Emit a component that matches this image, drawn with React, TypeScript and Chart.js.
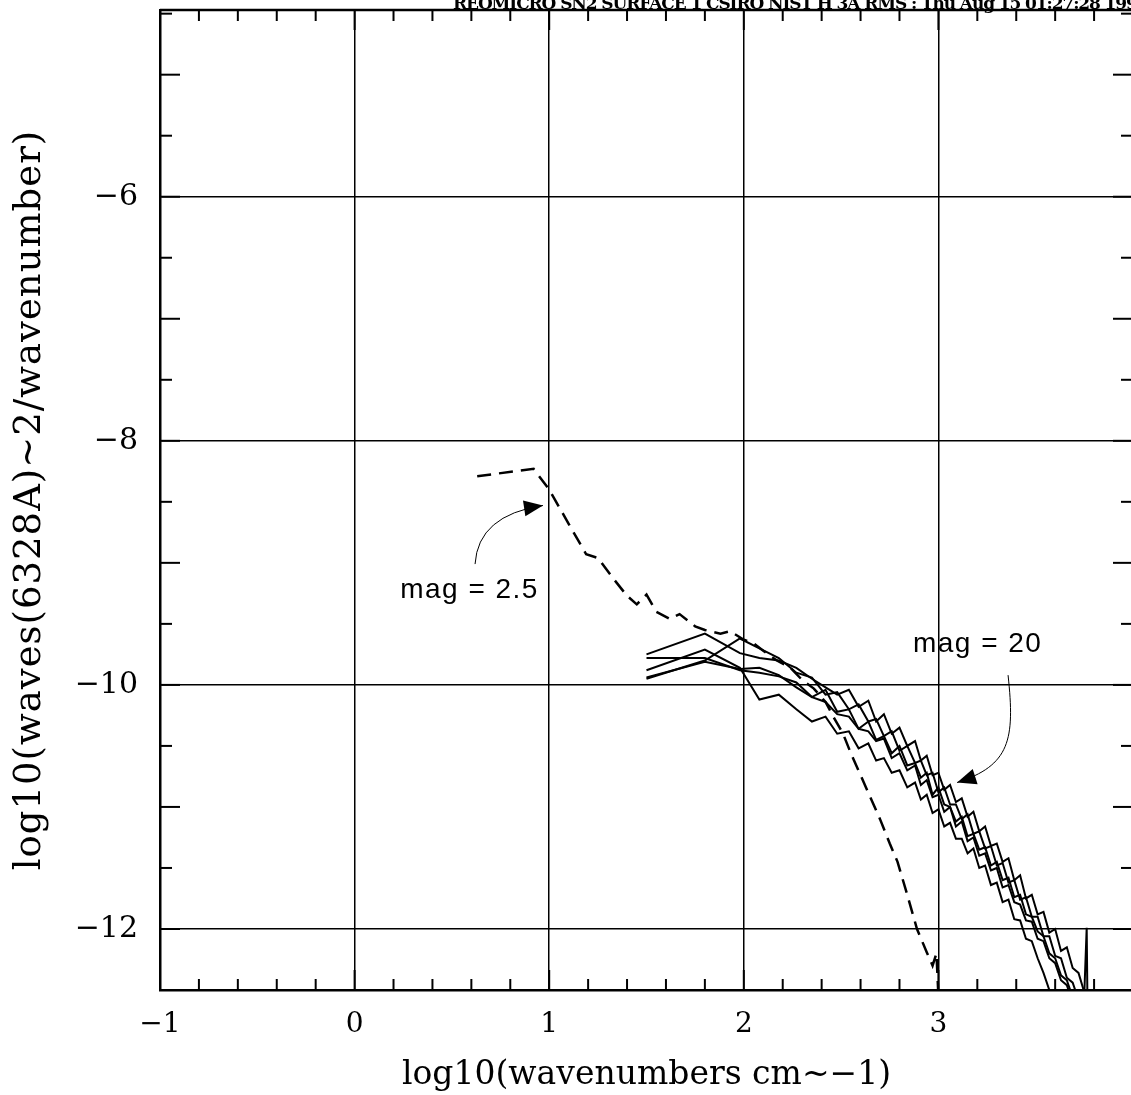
import React, { useEffect, useRef } from "react";
import { Chart, registerables } from "chart.js";

Chart.register(...registerables);

// ---- axes ----
const X_MIN = -1;
const X_MAX = 4;
const Y_MIN = -12.5;
const Y_MAX = -4.47;
const X_MINOR_STEP = 0.2;
const Y_MINOR_STEP = 0.5;
const X_LABELED = [-1, 0, 1, 2, 3];
const X_GRID = [0, 1, 2, 3];
const Y_LABELED = [-6, -8, -10, -12];
const Y_GRID = [-6, -8, -10, -12];

const X_TITLE = "log10(wavenumbers cm~\u22121)";
const Y_TITLE = "log10(waves(6328A)~2/wavenumber)";
const HEADER = "REOMICRO SN2 SURFACE 1 CSIRO NIST H 3A RMS : Thu Aug 15 01:27:28 1996";

// ---- mag = 2.5 (dashed) ----
const dashX = [0.63, 0.92, 1.0, 1.1, 1.19, 1.25, 1.33, 1.4, 1.45, 1.5, 1.55, 1.62, 1.67, 1.75, 1.8, 1.88, 1.93, 2.0, 2.05, 2.1, 2.17, 2.24, 2.3, 2.36, 2.42, 2.46, 2.51, 2.55, 2.6, 2.65, 2.7, 2.75, 2.79, 2.84, 2.89, 2.94, 2.97, 2.99, 3.0];
const dashY = [-8.29, -8.23, -8.4, -8.68, -8.93, -8.96, -9.13, -9.27, -9.34, -9.26, -9.4, -9.46, -9.42, -9.52, -9.55, -9.58, -9.56, -9.63, -9.66, -9.72, -9.8, -9.86, -9.96, -10.03, -10.14, -10.26, -10.4, -10.56, -10.74, -10.92, -11.1, -11.3, -11.45, -11.72, -12.0, -12.19, -12.3, -12.2, -12.55];

// ---- mag = 20 (solid) ----
const solidX = [1.5, 1.8, 1.98, 2.08, 2.18, 2.27, 2.35, 2.42, 2.48, 2.54, 2.59, 2.64, 2.68, 2.72, 2.76, 2.8, 2.84, 2.88, 2.91, 2.94, 2.97, 3.0, 3.03, 3.06, 3.09, 3.12, 3.15, 3.18, 3.21, 3.24, 3.27, 3.3, 3.33, 3.36, 3.39, 3.42, 3.45, 3.48, 3.51, 3.54, 3.57, 3.6, 3.63, 3.66, 3.69, 3.72, 3.75];
const solidA = [-9.75, -9.58, -9.74, -9.78, -9.8, -9.86, -9.95, -10.02, -10.08, -10.04, -10.18, -10.13, -10.3, -10.24, -10.4, -10.35, -10.5, -10.46, -10.62, -10.58, -10.74, -10.72, -10.86, -10.82, -10.96, -10.93, -11.08, -11.04, -11.2, -11.16, -11.32, -11.3, -11.45, -11.42, -11.6, -11.56, -11.75, -11.72, -11.88, -11.86, -12.03, -12.0, -12.18, -12.15, -12.32, -12.36, -12.52];
const solidB = [-9.78, -9.78, -9.88, -9.9, -9.93, -9.98, -10.1, -10.04, -10.22, -10.2, -10.36, -10.3, -10.45, -10.42, -10.56, -10.5, -10.66, -10.64, -10.76, -10.72, -10.9, -10.84, -10.98, -11.0, -11.12, -11.08, -11.24, -11.22, -11.35, -11.33, -11.48, -11.45, -11.6, -11.58, -11.74, -11.72, -11.88, -11.9, -12.02, -12.06, -12.2, -12.24, -12.38, -12.42, -12.56, -12.64, -12.75];
const solidC = [-9.88, -9.71, -9.86, -10.12, -10.08, -10.2, -10.3, -10.26, -10.4, -10.38, -10.52, -10.48, -10.62, -10.6, -10.72, -10.7, -10.84, -10.8, -10.94, -10.9, -11.05, -11.02, -11.16, -11.13, -11.26, -11.26, -11.38, -11.34, -11.5, -11.48, -11.64, -11.62, -11.78, -11.76, -11.92, -11.93, -12.08, -12.1, -12.24, -12.36, -12.5, -12.62, -12.72, -12.82, -12.92, -13.0, -13.1];
const solidD = [-9.94, -9.81, -9.87, -9.86, -9.92, -10.02, -10.1, -10.14, -10.24, -10.26, -10.36, -10.38, -10.46, -10.44, -10.6, -10.56, -10.7, -10.66, -10.82, -10.78, -10.92, -10.9, -11.04, -11.0, -11.16, -11.12, -11.28, -11.25, -11.4, -11.38, -11.52, -11.5, -11.66, -11.64, -11.78, -11.8, -11.93, -11.94, -12.08, -12.1, -12.24, -12.28, -12.42, -12.46, -12.6, -12.68, -12.78];
const solidE = [-9.95, -9.8, -9.62, -9.7, -9.78, -9.9, -9.94, -10.08, -10.06, -10.2, -10.16, -10.3, -10.28, -10.42, -10.38, -10.54, -10.5, -10.64, -10.62, -10.74, -10.72, -10.88, -10.84, -10.98, -10.98, -11.1, -11.06, -11.22, -11.2, -11.34, -11.32, -11.48, -11.46, -11.62, -11.6, -11.76, -11.74, -11.9, -11.9, -12.06, -12.06, -12.22, -12.24, -12.4, -12.44, -12.58, -12.66];
const spikeX = [3.75, 3.762, 3.766];
const spikeY = [-12.52, -11.99, -12.6];

// ---- annotations (data coordinates) ----
const LABEL_25 = { text: "mag = 2.5", x: 0.234, y: -9.29 };
const LABEL_20 = { text: "mag = 20", x: 2.869, y: -9.73 };
const ARROW_25 = { x: [0.619, 0.634, 0.968], y: [-9.01, -8.61, -8.53] };
const ARROW_20 = { x: [3.358, 3.394, 3.368, 3.096], y: [-9.92, -10.45, -10.66, -10.8] };

const zip = (xs: number[], ys: number[]) => xs.map((x, i) => ({ x, y: ys[i] }));
const fmt = (v: number) => (v < 0 ? "\u2212" + Math.abs(v) : String(v));
const near = (list: number[], v: number) => list.some((a) => Math.abs(a - v) < 1e-6);
const makeTicks = (min: number, max: number, step: number) => {
  const out: { value: number }[] = [];
  const start = Math.ceil((min - 1e-9) / step) * step;
  for (let v = start; v <= max + 1e-9; v += step) out.push({ value: Math.round(v * 1000) / 1000 });
  return out;
};

const frame = {
  id: "frame",
  afterDraw(chart: any) {
    const { ctx, chartArea, scales } = chart;
    const { left, right, top, bottom } = chartArea;
    const xs = scales.x;
    const ys = scales.y;
    const line = (a: number, b: number, c: number, d: number) => {
      ctx.beginPath();
      ctx.moveTo(a, b);
      ctx.lineTo(c, d);
      ctx.stroke();
    };
    ctx.save();
    ctx.strokeStyle = "#000";
    ctx.lineWidth = 2;
    xs.ticks.forEach((t: any) => {
      const px = xs.getPixelForValue(t.value);
      const len = Number.isInteger(t.value) ? 20 : 11;
      line(px, bottom, px, bottom - len);
      line(px, top, px, top + len);
    });
    ys.ticks.forEach((t: any) => {
      const py = ys.getPixelForValue(t.value);
      const len = Number.isInteger(t.value) ? 20 : 12;
      line(left, py, left + len, py);
      line(right, py, right - len, py);
    });
    ctx.lineWidth = 2.5;
    line(left, top, right, top);
    line(right, top, right, bottom);

    ctx.fillStyle = "#000";

    // header
    ctx.font = "bold 17px 'DejaVu Serif'";
    ctx.textBaseline = "alphabetic";
    ctx.textAlign = "left";
    (ctx as any).letterSpacing = "-1.1px";
    ctx.fillText(HEADER, left + 293, top - 1);
    (ctx as any).letterSpacing = "0px";

    // y title
    ctx.save();
    ctx.translate(30, (top + bottom) / 2);
    ctx.rotate(-Math.PI / 2);
    ctx.font = "37px 'DejaVu Serif'";
    (ctx as any).letterSpacing = "1px";
    ctx.textAlign = "center";
    ctx.textBaseline = "middle";
    ctx.fillText(Y_TITLE, 0, 0);
    ctx.restore();

    // annotations
    ctx.textAlign = "left";
    ctx.textBaseline = "alphabetic";
    ctx.font = "28px 'Liberation Sans'";
    (ctx as any).letterSpacing = "1.5px";
    ctx.fillText(LABEL_25.text, xs.getPixelForValue(LABEL_25.x), ys.getPixelForValue(LABEL_25.y));
    ctx.fillText(LABEL_20.text, xs.getPixelForValue(LABEL_20.x), ys.getPixelForValue(LABEL_20.y));
    (ctx as any).letterSpacing = "0px";

    const head = (tx: number, ty: number, fx: number, fy: number) => {
      const ang = Math.atan2(ty - fy, tx - fx);
      const L = 19;
      const W = 8;
      const bx = tx - L * Math.cos(ang);
      const by = ty - L * Math.sin(ang);
      ctx.beginPath();
      ctx.moveTo(tx, ty);
      ctx.lineTo(bx + W * Math.sin(ang), by - W * Math.cos(ang));
      ctx.lineTo(bx - W * Math.sin(ang), by + W * Math.cos(ang));
      ctx.closePath();
      ctx.fill();
    };
    ctx.lineWidth = 1;
    {
      const p = ARROW_25.x.map((x, i) => [xs.getPixelForValue(x), ys.getPixelForValue(ARROW_25.y[i])]);
      ctx.beginPath();
      ctx.moveTo(p[0][0], p[0][1]);
      ctx.quadraticCurveTo(p[1][0], p[1][1], p[2][0], p[2][1]);
      ctx.stroke();
      head(p[2][0], p[2][1], p[1][0], p[1][1]);
    }
    {
      const p = ARROW_20.x.map((x, i) => [xs.getPixelForValue(x), ys.getPixelForValue(ARROW_20.y[i])]);
      ctx.beginPath();
      ctx.moveTo(p[0][0], p[0][1]);
      ctx.bezierCurveTo(p[1][0], p[1][1], p[2][0], p[2][1], p[3][0], p[3][1]);
      ctx.stroke();
      head(p[3][0], p[3][1], p[2][0], p[2][1]);
    }
    ctx.restore();
  },
};

export default function App() {
  const ref = useRef<HTMLCanvasElement | null>(null);
  useEffect(() => {
    if (!ref.current) return;
    const solid = (data: number[]) => ({
      data: zip(solidX, data),
      borderColor: "#000",
      borderWidth: 2,
      pointRadius: 0,
      fill: false,
      tension: 0,
    });
    const chart = new Chart(ref.current, {
      type: "line",
      data: {
        datasets: [
          {
            data: zip(dashX, dashY),
            borderColor: "#000",
            borderWidth: 2.5,
            borderDash: [14, 8],
            pointRadius: 0,
            fill: false,
            tension: 0,
          },
          solid(solidA),
          solid(solidB),
          solid(solidC),
          solid(solidD),
          solid(solidE),
          { data: zip(spikeX, spikeY), borderColor: "#000", borderWidth: 2, pointRadius: 0, fill: false },
        ],
      },
      options: {
        animation: false,
        responsive: false,
        devicePixelRatio: 1,
        layout: { padding: { top: 10, right: 7, left: 0, bottom: 0 } },
        plugins: { legend: { display: false }, tooltip: { enabled: false }, title: { display: false } },
        scales: {
          x: {
            type: "linear",
            min: X_MIN,
            max: X_MAX,
            afterBuildTicks: (s: any) => {
              s.ticks = makeTicks(X_MIN, X_MAX, X_MINOR_STEP);
            },
            afterFit: (s: any) => {
              s.height = 105;
              s.paddingLeft = 0;
              s.paddingRight = 0;
            },
            grid: {
              drawTicks: false,
              lineWidth: 1.5,
              color: (c: any) => (c.tick && near(X_GRID, c.tick.value) ? "#000" : "rgba(0,0,0,0)"),
            },
            border: { display: true, color: "#000", width: 2.5 },
            ticks: {
              autoSkip: false,
              maxRotation: 0,
              padding: 18,
              color: "#000",
              font: { family: "'DejaVu Serif'", size: 28 },
              callback: (v: any) => (near(X_LABELED, Number(v)) ? fmt(Number(v)) : ""),
            },
            title: {
              display: true,
              text: X_TITLE,
              color: "#000",
              font: { family: "'DejaVu Serif'", size: 33 },
              padding: { top: 0, bottom: 0 },
            },
          },
          y: {
            type: "linear",
            min: Y_MIN,
            max: Y_MAX,
            afterBuildTicks: (s: any) => {
              s.ticks = makeTicks(Y_MIN, Y_MAX, Y_MINOR_STEP);
            },
            afterFit: (s: any) => {
              s.width = 160;
              s.paddingTop = 0;
              s.paddingBottom = 0;
            },
            grid: {
              drawTicks: false,
              lineWidth: 1.5,
              color: (c: any) => (c.tick && near(Y_GRID, c.tick.value) ? "#000" : "rgba(0,0,0,0)"),
            },
            border: { display: true, color: "#000", width: 2.5 },
            ticks: {
              autoSkip: false,
              padding: 22,
              color: "#000",
              font: { family: "'DejaVu Serif'", size: 30 },
              callback: (v: any) => (near(Y_LABELED, Number(v)) ? fmt(Number(v)) : ""),
            },
            title: { display: false },
          },
        },
      },
      plugins: [frame],
    } as any);
    return () => chart.destroy();
  }, []);

  return (
    <div style={{ position: "absolute", left: 0, top: 0, width: 1131, height: 1095, overflow: "hidden", background: "#fff" }}>
      <canvas ref={ref} width={1140} height={1095} style={{ display: "block" }} />
    </div>
  );
}
